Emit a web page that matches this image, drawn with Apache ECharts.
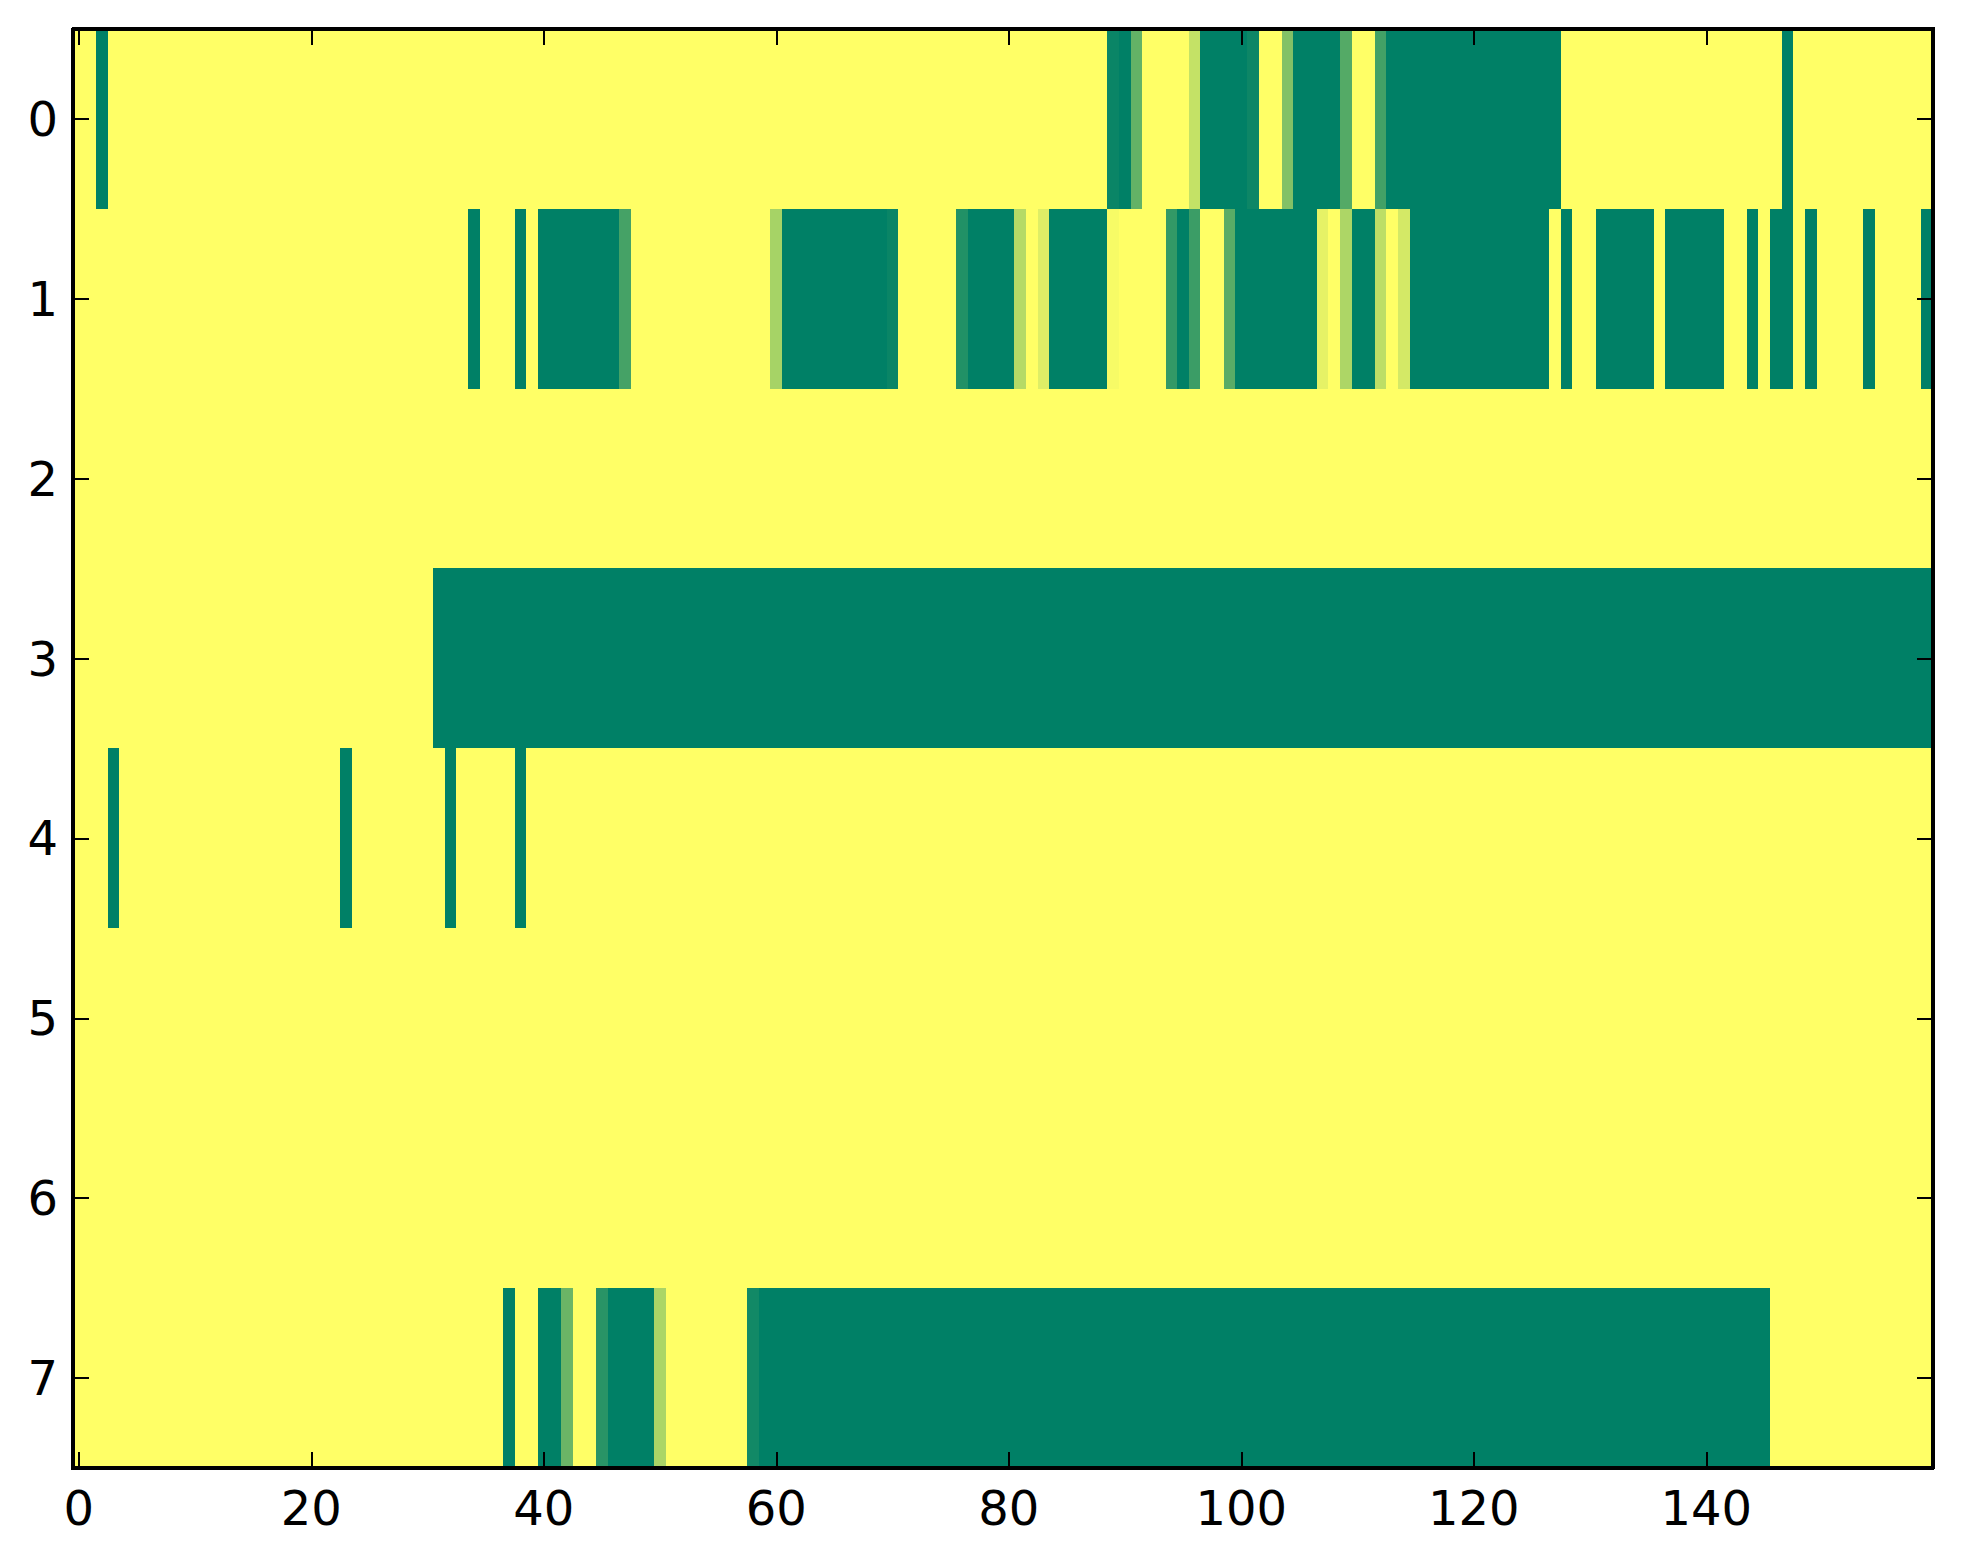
<!DOCTYPE html>
<html>
<head>
<meta charset="utf-8">
<script src="https://cdn.jsdelivr.net/npm/echarts@6/dist/echarts.min.js"></script>
<style>
html,body{margin:0;padding:0;background:#fff;}
#chart{width:1963px;height:1564px;}
#chart svg path, #chart svg rect{shape-rendering:crispEdges;}
</style>
</head>
<body>
<div id="chart"></div>
<script>
// Row values (160 columns each, 0 = yellow, 1 = green)
const row0 = [
0,0,1,0,0,0,0,0,0,0, 0,0,0,0,0,0,0,0,0,0, 0,0,0,0,0,0,0,0,0,0, 0,0,0,0,0,0,0,0,0,0,
0,0,0,0,0,0,0,0,0,0, 0,0,0,0,0,0,0,0,0,0, 0,0,0,0,0,0,0,0,0,0, 0,0,0,0,0,0,0,0,0,0,
0,0,0,0,0,0,0,0,0,0.96, 1,0.61,0,0,0,0,0.23,1,1,1, 1,0.95,0,0,0.49,1,1,1,1,0.67, 0,0,0.74,1,1,1,1,1,1,1,
1,1,1,1,1,1,1,1,0,0, 0,0,0,0,0,0,0,0,0,0, 0,0,0,0,0,0,0,1,0,0, 0,0,0,0,0,0,0,0,0,0
];
const row1 = [
0,0,0,0,0,0,0,0,0,0, 0,0,0,0,0,0,0,0,0,0, 0,0,0,0,0,0,0,0,0,0, 0,0,0,0,1,0,0,0,1,0,
1,1,1,1,1,1,1,0.73,0,0, 0,0,0,0,0,0,0,0,0,0, 0.35,1,1,1,1,1,1,1,1,1, 0.96,0,0,0,0,0,0.87,1,1,1,
1,0.29,0,0.13,1,1,1,1,1,0.03, 0,0,0,0,0.8,1,0.77,0,0,0.65, 1,1,1,1,1,1,1,0.1,0,0.32, 1,1,0.26,0,0.17,1,1,1,1,1,
1,1,1,1,1,1,1,0,1,0, 0,1,1,1,1,1,0,1,1,1, 1,1,0,0,1,0,1,1,0,1, 0,0,0,0,1,0,0,0,0,1
];
const row2 = [
0,0,0,0,0,0,0,0,0,0, 0,0,0,0,0,0,0,0,0,0, 0,0,0,0,0,0,0,0,0,0, 0,0,0,0,0,0,0,0,0,0,
0,0,0,0,0,0,0,0,0,0, 0,0,0,0,0,0,0,0,0,0, 0,0,0,0,0,0,0,0,0,0, 0,0,0,0,0,0,0,0,0,0,
0,0,0,0,0,0,0,0,0,0, 0,0,0,0,0,0,0,0,0,0, 0,0,0,0,0,0,0,0,0,0, 0,0,0,0,0,0,0,0,0,0,
0,0,0,0,0,0,0,0,0,0, 0,0,0,0,0,0,0,0,0,0, 0,0,0,0,0,0,0,0,0,0, 0,0,0,0,0,0,0,0,0,0
];
const row3 = [
0,0,0,0,0,0,0,0,0,0, 0,0,0,0,0,0,0,0,0,0, 0,0,0,0,0,0,0,0,0,0, 0,1,1,1,1,1,1,1,1,1,
1,1,1,1,1,1,1,1,1,1, 1,1,1,1,1,1,1,1,1,1, 1,1,1,1,1,1,1,1,1,1, 1,1,1,1,1,1,1,1,1,1,
1,1,1,1,1,1,1,1,1,1, 1,1,1,1,1,1,1,1,1,1, 1,1,1,1,1,1,1,1,1,1, 1,1,1,1,1,1,1,1,1,1,
1,1,1,1,1,1,1,1,1,1, 1,1,1,1,1,1,1,1,1,1, 1,1,1,1,1,1,1,1,1,1, 1,1,1,1,1,1,1,1,1,1
];
const row4 = [
0,0,0,1,0,0,0,0,0,0, 0,0,0,0,0,0,0,0,0,0, 0,0,0,1,0,0,0,0,0,0, 0,0,1,0,0,0,0,0,1,0,
0,0,0,0,0,0,0,0,0,0, 0,0,0,0,0,0,0,0,0,0, 0,0,0,0,0,0,0,0,0,0, 0,0,0,0,0,0,0,0,0,0,
0,0,0,0,0,0,0,0,0,0, 0,0,0,0,0,0,0,0,0,0, 0,0,0,0,0,0,0,0,0,0, 0,0,0,0,0,0,0,0,0,0,
0,0,0,0,0,0,0,0,0,0, 0,0,0,0,0,0,0,0,0,0, 0,0,0,0,0,0,0,0,0,0, 0,0,0,0,0,0,0,0,0,0
];
const row5 = [
0,0,0,0,0,0,0,0,0,0, 0,0,0,0,0,0,0,0,0,0, 0,0,0,0,0,0,0,0,0,0, 0,0,0,0,0,0,0,0,0,0,
0,0,0,0,0,0,0,0,0,0, 0,0,0,0,0,0,0,0,0,0, 0,0,0,0,0,0,0,0,0,0, 0,0,0,0,0,0,0,0,0,0,
0,0,0,0,0,0,0,0,0,0, 0,0,0,0,0,0,0,0,0,0, 0,0,0,0,0,0,0,0,0,0, 0,0,0,0,0,0,0,0,0,0,
0,0,0,0,0,0,0,0,0,0, 0,0,0,0,0,0,0,0,0,0, 0,0,0,0,0,0,0,0,0,0, 0,0,0,0,0,0,0,0,0,0
];
const row6 = [
0,0,0,0,0,0,0,0,0,0, 0,0,0,0,0,0,0,0,0,0, 0,0,0,0,0,0,0,0,0,0, 0,0,0,0,0,0,0,0,0,0,
0,0,0,0,0,0,0,0,0,0, 0,0,0,0,0,0,0,0,0,0, 0,0,0,0,0,0,0,0,0,0, 0,0,0,0,0,0,0,0,0,0,
0,0,0,0,0,0,0,0,0,0, 0,0,0,0,0,0,0,0,0,0, 0,0,0,0,0,0,0,0,0,0, 0,0,0,0,0,0,0,0,0,0,
0,0,0,0,0,0,0,0,0,0, 0,0,0,0,0,0,0,0,0,0, 0,0,0,0,0,0,0,0,0,0, 0,0,0,0,0,0,0,0,0,0
];
const row7 = [
0,0,0,0,0,0,0,0,0,0, 0,0,0,0,0,0,0,0,0,0, 0,0,0,0,0,0,0,0,0,0, 0,0,0,0,0,0,0,1,0,0,
1,1,0.58,0,0,0.84,1,1,1,1, 0.33,0,0,0,0,0,0,0,0.93,1, 1,1,1,1,1,1,1,1,1,1, 1,1,1,1,1,1,1,1,1,1,
1,1,1,1,1,1,1,1,1,1, 1,1,1,1,1,1,1,1,1,1, 1,1,1,1,1,1,1,1,1,1, 1,1,1,1,1,1,1,1,1,1,
1,1,1,1,1,1,1,1,1,1, 1,1,1,1,1,1,1,1,1,1, 1,1,1,1,1,1,0,0,0,0, 0,0,0,0,0,0,0,0,0,0
];

const rows = [row0, row1, row2, row3, row4, row5, row6, row7];
const yLabels = ['0','1','2','3','4','5','6','7'];
const xTickLabels = ['0','20','40','60','80','100','120','140'];
const xCategories = row0.map((_, i) => String(i));

const data = [];
rows.forEach((r, y) => r.forEach((v, x) => data.push([x, y, v])));

const showX = (idx, val) => xTickLabels.indexOf(String(val)) !== -1;

const font = 'DejaVu Sans';
const axisLineStyle = { color: '#000', width: 4 };
const tickStyle = { color: '#000', width: 2 };

function xAxisDef(pos, labels) {
  return {
    type: 'category', data: xCategories, position: pos, z: 10,
    axisLine: { show: true, onZero: false, lineStyle: axisLineStyle },
    axisTick: { show: true, inside: true, length: 16, alignWithLabel: true, interval: showX, lineStyle: tickStyle },
    axisLabel: { show: labels, interval: showX, fontSize: 48, color: '#000', fontFamily: font, margin: 16 },
    splitLine: { show: false }
  };
}
function yAxisDef(pos, labels) {
  return {
    type: 'category', data: yLabels, position: pos, inverse: true, z: 10,
    axisLine: { show: true, onZero: false, lineStyle: axisLineStyle },
    axisTick: { show: true, inside: true, length: 16, alignWithLabel: true, interval: 0, lineStyle: tickStyle },
    axisLabel: { show: labels, interval: 0, fontSize: 48, color: '#000', fontFamily: font, margin: 15 },
    splitLine: { show: false }
  };
}

const chart = echarts.init(document.getElementById('chart'), null, { renderer: 'svg' });
chart.setOption({
  backgroundColor: '#ffffff',
  animation: false,
  grid: { left: 73, right: 30, top: 29, bottom: 96, containLabel: false },
  xAxis: [xAxisDef('bottom', true), xAxisDef('top', false)],
  yAxis: [yAxisDef('left', true), yAxisDef('right', false)],
  visualMap: { show: false, type: 'continuous', min: 0, max: 1, dimension: 2,
    inRange: { color: ['#ffff66', '#008066'] } },
  series: [{
    type: 'heatmap', xAxisIndex: 0, yAxisIndex: 0, data: data,
    itemStyle: { borderWidth: 0 },
    emphasis: { disabled: true }
  }]
});
</script>
</body>
</html>
